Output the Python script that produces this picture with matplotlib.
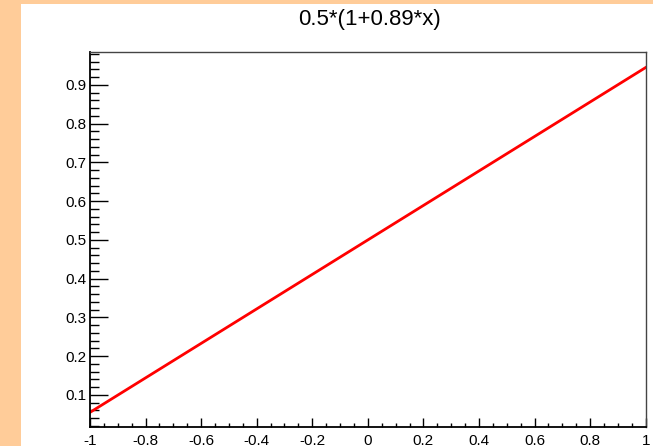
import matplotlib
matplotlib.use('Agg')
import matplotlib.pyplot as plt
from matplotlib.ticker import MultipleLocator, FuncFormatter
from matplotlib.patches import Rectangle

# f(x) = 0.5*(1+0.89*x), evaluated at the ends and the middle
x_vals = [-1.0, 0.0, 1.0]
y_vals = [0.055, 0.5, 0.945]
title = '0.5*(1+0.89*x)'

plt.rcParams['font.family'] = ['Liberation Sans', 'DejaVu Sans']

fig = plt.figure(figsize=(6.53, 4.46), dpi=100, facecolor='#ffcc99')
# white canvas, orange strip left and top
fig.patches.append(Rectangle((21/653., 0), 1, 1 - 4/446., transform=fig.transFigure,
                             facecolor='white', edgecolor='none', zorder=-10))

ax = fig.add_axes([90/653., 1 - 426.7/446., (645.7 - 90)/653., (426.7 - 52)/446.])
ax.set_zorder(1)
ax.plot(x_vals, y_vals, color='red', lw=2)

ax.set_xlim(-1, 1)
ax.set_ylim(0.018, 0.985)

ax.xaxis.set_major_locator(MultipleLocator(0.2))
ax.xaxis.set_minor_locator(MultipleLocator(0.05))
ax.yaxis.set_major_locator(MultipleLocator(0.1))
ax.yaxis.set_minor_locator(MultipleLocator(0.02))
fmt = FuncFormatter(lambda v, p: '%g' % round(v, 2))
ax.xaxis.set_major_formatter(fmt)
ax.yaxis.set_major_formatter(fmt)

ax.tick_params(axis='both', which='both', direction='in', top=False, right=False,
               labelsize=11, width=1)
ax.tick_params(axis='y', which='major', length=12.6, pad=2.4)
ax.tick_params(axis='y', which='minor', length=6.5)
ax.tick_params(axis='x', which='major', length=6.5, pad=5.5)
ax.tick_params(axis='x', which='minor', length=3.2)

for side in ['left', 'bottom']:
    ax.spines[side].set_linewidth(1.3)
    ax.spines[side].set_color('black')
for side in ['top', 'right']:
    ax.spines[side].set_linewidth(1)
    ax.spines[side].set_color('#444444')

fig.text(369/653., 1 - 20/446., title, ha='center', va='center', fontsize=16)

fig.savefig('out.png', dpi=100, facecolor=fig.get_facecolor())
